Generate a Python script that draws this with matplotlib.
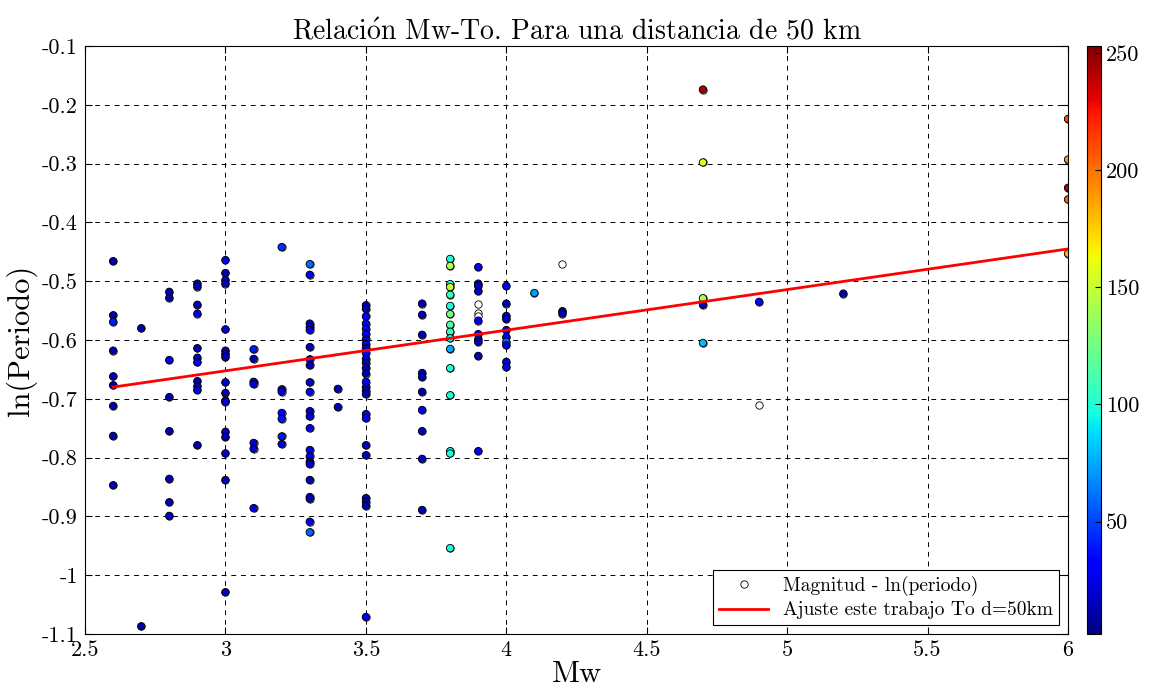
import numpy as np
import matplotlib
matplotlib.use("Agg")
import matplotlib.pyplot as plt

plt.rcParams['font.family'] = ['cmr10', 'DejaVu Serif']
plt.rcParams['mathtext.fontset'] = 'cm'
plt.rcParams['axes.unicode_minus'] = False
plt.rcParams['axes.formatter.use_mathtext'] = False

# magnitude, ln(period) and distance (colour) per event; NaN distance = no colour
mw = (
    [2.6] * 9 + [2.7] * 2 + [2.8] * 8 + [2.9] * 11 + [3.0] * 17 + [3.1] * 7
    + [3.2] * 7 + [3.3] * 22 + [3.4] * 2 + [3.5] * 26 + [3.7] * 10
    + [3.8] * 16 + [3.9] * 13 + [4.0] * 10 + [4.1] + [4.2] * 3
    + [4.7] * 5 + [4.9] * 2 + [5.2] + [6.0] * 5
)
ln_t = [
    # 2.6
    -0.466, -0.558, -0.569, -0.618, -0.662, -0.677, -0.712, -0.763, -0.847,
    # 2.7
    -0.580, -1.087,
    # 2.8
    -0.518, -0.528, -0.634, -0.697, -0.755, -0.836, -0.876, -0.899,
    # 2.9
    -0.504, -0.509, -0.540, -0.555, -0.614, -0.630, -0.638, -0.670, -0.679,
    -0.685, -0.779,
    # 3.0
    -0.464, -0.486, -0.498, -0.504, -0.582, -0.618, -0.624, -0.629, -0.672,
    -0.690, -0.703, -0.705, -0.756, -0.765, -0.793, -0.838, -1.029,
    # 3.1
    -0.616, -0.632, -0.671, -0.675, -0.775, -0.785, -0.886,
    # 3.2
    -0.442, -0.684, -0.688, -0.724, -0.734, -0.764, -0.777,
    # 3.3
    -0.471, -0.489, -0.572, -0.578, -0.583, -0.612, -0.633, -0.643, -0.672,
    -0.688, -0.721, -0.730, -0.750, -0.787, -0.798, -0.807, -0.811, -0.838,
    -0.867, -0.870, -0.909, -0.927,
    # 3.4
    -0.683, -0.714,
    # 3.5
    -0.541, -0.547, -0.560, -0.572, -0.581, -0.590, -0.599, -0.607, -0.614,
    -0.622, -0.632, -0.639, -0.648, -0.657, -0.671, -0.680, -0.686, -0.692,
    -0.726, -0.733, -0.779, -0.796, -0.869, -0.875, -0.882, -1.071,
    # 3.7
    -0.538, -0.557, -0.591, -0.656, -0.663, -0.688, -0.719, -0.755, -0.802,
    -0.889,
    # 3.8
    -0.462, -0.474, -0.505, -0.510, -0.523, -0.542, -0.556, -0.574, -0.586,
    -0.597, -0.615, -0.648, -0.694, -0.789, -0.793, -0.954,
    # 3.9
    -0.476, -0.504, -0.517, -0.539, -0.554, -0.559, -0.567, -0.590, -0.599,
    -0.603, -0.627, -0.789, -0.508,
    # 4.0
    -0.508, -0.538, -0.559, -0.564, -0.583, -0.595, -0.603, -0.609, -0.637,
    -0.646,
    # 4.1
    -0.520,
    # 4.2
    -0.470, -0.551, -0.555,
    # 4.7
    -0.174, -0.298, -0.529, -0.540, -0.605,
    # 4.9
    -0.535, -0.711,
    # 5.2
    -0.521,
    # 6.0
    -0.224, -0.293, -0.341, -0.361, -0.453,
]
nan = np.nan
dist = [
    # 2.6
    12, 14, 40, 13, 15, 12, 14, 13, 15,
    # 2.7
    14, 12,
    # 2.8
    14, 16, 30, 14, 13, 15, 14, 18,
    # 2.9
    14, 16, 15, 35, 15, 14, 28, 15, 16, 24, 14,
    # 3.0
    30, 14, 24, 15, 22, 14, 16, 15, 22, 14, 16, 24, 15, 14, 20, 14, 14,
    # 3.1
    40, 14, 25, 24, 22, 20, 28,
    # 3.2
    45, 14, 24, 35, 38, 40, 22,
    # 3.3
    60, 30, 18, 22, 24, 15, 14, 16, 20, 35, 20, 22, 28, 32, 30, 22, 20, 14,
    14, 15, 32, 58,
    # 3.4
    14, 15,
    # 3.5
    14, 16, 30, 32, 32, 30, 22, 32, 15, 30, 14, 16, 14, 15, 28, 20, 15, 14,
    30, 32, 14, 16, 14, 15, 14, 28,
    # 3.7
    14, 15, 16, 15, 14, 13, 30, 16, 18, 14,
    # 3.8
    100, 145, 98, 150, 108, 100, 125, 115, 108, 95, 75, 100, 98, 95, 97, 98,
    # 3.9
    30, 14, 22, nan, nan, nan, 32, 30, 28, 18, 14, 30, 16,
    # 4.0
    32, 15, 15, 18, 22, 30, 60, 25, 22, 25,
    # 4.1
    72,
    # 4.2
    nan, 14, 15,
    # 4.7
    245, 155, 140, 15, 80,
    # 4.9
    35, nan,
    # 5.2
    14,
    # 6.0
    212, 190, 240, 205, 185,
]

# linear fit ln(T) = a*Mw + b
fit_a = 0.0691
fit_b = -0.8597

mw = np.array(mw)
ln_t = np.array(ln_t)
dist = np.array(dist, dtype=float)

fig = plt.figure(figsize=(11.73, 6.92), dpi=100)
ax = fig.add_axes([0.0725, 0.0838, 0.838, 0.8497])
cax = fig.add_axes([0.9267, 0.0838, 0.012, 0.8497])

ax.plot(mw, ln_t, 'o', mfc='white', mec='black', mew=0.6, ms=5.3,
        label='Magnitud - ln(periodo)', zorder=2)
sc = ax.scatter(mw, ln_t, c=dist, cmap='jet', vmin=2, vmax=253, s=28,
                edgecolors='black', linewidths=0.6, zorder=3)

xf = np.array([mw.min(), mw.max()])
ax.plot(xf, fit_a * xf + fit_b, color='red', lw=2,
        label='Ajuste este trabajo To d=50km', zorder=4)

ax.set_xlim(2.5, 6)
ax.set_ylim(-1.1, -0.1)
ax.set_xticks(np.arange(2.5, 6.01, 0.5))
ax.set_xticklabels(['2.5', '3', '3.5', '4', '4.5', '5', '5.5', '6'])
yt = np.round(np.arange(-1.1, -0.09, 0.1), 1)
ax.set_yticks(yt)
ax.set_yticklabels(['-1.1', '-1', '-0.9', '-0.8', '-0.7', '-0.6', '-0.5',
                    '-0.4', '-0.3', '-0.2', '-0.1'])
ax.tick_params(direction='in', top=True, right=True, labelsize=16, length=5,
               pad=5)
ax.grid(True, color='black', linestyle=(0, (5, 5)), lw=0.7)
for s in ax.spines.values():
    s.set_linewidth(0.8)

ax.set_title(r'Relaci$\acute{\mathrm{o}}$n Mw-To. Para una distancia de 50 km',
             fontsize=20, pad=5)
ax.set_xlabel('Mw', fontsize=22, labelpad=0)
ax.set_ylabel('ln(Periodo)', fontsize=22, labelpad=4)

leg = ax.legend(loc='lower right', fontsize=14, fancybox=False,
                edgecolor='black', framealpha=1, borderaxespad=0.45,
                handlelength=2.5, borderpad=0.3, labelspacing=0.3)
leg.get_frame().set_linewidth(0.8)

cb = fig.colorbar(sc, cax=cax, ticks=[50, 100, 150, 200, 250])
cb.ax.tick_params(labelsize=16, direction='in', length=4)
cb.outline.set_linewidth(0.8)

fig.savefig('out.png', dpi=100)
